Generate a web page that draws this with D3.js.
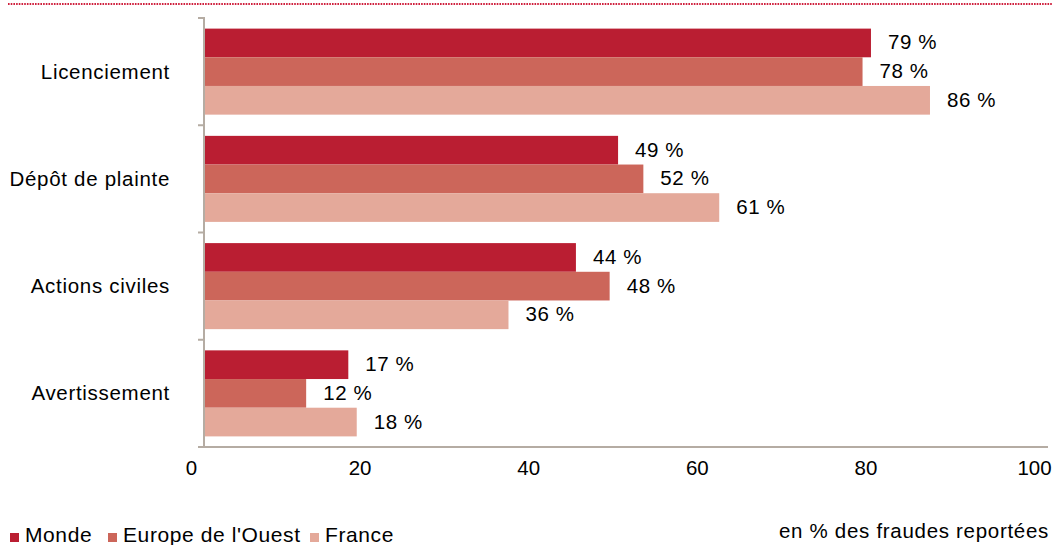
<!DOCTYPE html>
<html>
<head>
<meta charset="utf-8">
<script src="https://cdn.jsdelivr.net/npm/d3@7"></script>
<style>
  html, body { margin: 0; padding: 0; background: #fff; }
  svg { display: block; }
  text { font-family: "Liberation Sans", Arial, Helvetica, sans-serif; fill: #000; }
</style>
</head>
<body>
<svg id="chart" width="1052" height="545"></svg>
<script>
// Sanctions prises suite à une fraude (en % des fraudes reportées)
const categories = ["Licenciement", "Dépôt de plainte", "Actions civiles", "Avertissement"];
const seriesNames = ["Monde", "Europe de l'Ouest", "France"];
const monde = [79, 49, 44, 17];
const europeOuest = [78, 52, 48, 12];
const france = [86, 61, 36, 18];
const xTicks = [0, 20, 40, 60, 80, 100];

const seriesValues = [monde, europeOuest, france];
const colors = ["#ba1e32", "#cc665a", "#e4a99a"];
const axisColor = "#b5aca3";

const svg = d3.select("#chart");
const W = 1052, H = 545;

const x = d3.scaleLinear().domain([0, 100]).range([205, 1048]);
const y0 = d3.scaleBand().domain(categories).range([18, 447]).padding(0);
const y1 = d3.scaleBand().domain(seriesNames).range([0, y0.bandwidth()])
  .paddingInner(0).paddingOuter(0.37);
const color = d3.scaleOrdinal().domain(seriesNames).range(colors);

// dotted rule along the top
svg.append("line")
  .attr("x1", 8).attr("x2", W).attr("y1", 4).attr("y2", 4)
  .attr("stroke", "#cf1f3c").attr("stroke-width", 2)
  .attr("stroke-dasharray", "1.6 1.1");

// bars
const groups = svg.append("g").selectAll("g")
  .data(categories)
  .join("g")
  .attr("transform", d => `translate(0,${y0(d)})`);

groups.selectAll("rect")
  .data((c, i) => seriesNames.map((s, k) => ({ s, v: seriesValues[k][i] })))
  .join("rect")
  .attr("x", x(0))
  .attr("y", d => y1(d.s))
  .attr("width", d => x(d.v) - x(0))
  .attr("height", y1.bandwidth())
  .attr("fill", d => color(d.s));

// value labels
groups.selectAll("text")
  .data((c, i) => seriesNames.map((s, k) => ({ s, v: seriesValues[k][i] })))
  .join("text")
  .attr("x", d => x(d.v) + 17)
  .attr("y", d => y1(d.s) + y1.bandwidth() / 2 + 6.5)
  .attr("font-size", 20.5)
  .attr("letter-spacing", 0.6)
  .text(d => `${d.v} %`);

// vertical axis with category ticks at band boundaries
const yAxis = svg.append("g");
yAxis.append("line")
  .attr("x1", x(0) - 1).attr("x2", x(0) - 1)
  .attr("y1", y0.range()[0]).attr("y2", y0.range()[1])
  .attr("stroke", axisColor).attr("stroke-width", 2);
const boundaries = categories.map(c => y0(c)).concat([y0.range()[1]]);
yAxis.selectAll("line.tick")
  .data(boundaries)
  .join("line")
  .attr("class", "tick")
  .attr("x1", x(0) - 7).attr("x2", x(0))
  .attr("y1", d => d).attr("y2", d => d)
  .attr("stroke", axisColor).attr("stroke-width", 2);

yAxis.selectAll("text")
  .data(categories)
  .join("text")
  .attr("x", 170)
  .attr("y", d => y0(d) + y0.bandwidth() / 2 + 7)
  .attr("text-anchor", "end")
  .attr("font-size", 20.5)
  .attr("letter-spacing", 0.7)
  .text(d => d);

// horizontal axis
svg.append("line")
  .attr("x1", x(0) - 7).attr("x2", x(100))
  .attr("y1", 447).attr("y2", 447)
  .attr("stroke", axisColor).attr("stroke-width", 2);

const xAxis = svg.append("g")
  .attr("transform", "translate(0,447)")
  .call(d3.axisBottom(x).tickValues(xTicks).tickSize(0).tickPadding(0));
xAxis.select(".domain").remove();
xAxis.selectAll("text")
  .attr("font-size", 20.5)
  .attr("font-family", "Liberation Sans, Arial, sans-serif")
  .attr("fill", "#000")
  .attr("dy", 0)
  .attr("dx", -14)
  .attr("y", 28);

// legend
const legendX = [10, 108, 310];
const legend = svg.append("g").selectAll("g")
  .data(seriesNames)
  .join("g")
  .attr("transform", (d, i) => `translate(${legendX[i]},0)`);
legend.append("rect")
  .attr("x", 0).attr("y", 533).attr("width", 9).attr("height", 9)
  .attr("fill", d => color(d));
legend.append("text")
  .attr("x", 15).attr("y", 542)
  .attr("font-size", 21)
  .attr("letter-spacing", 0.6)
  .text(d => d);

// unit note
svg.append("text")
  .attr("x", 1049).attr("y", 538)
  .attr("text-anchor", "end")
  .attr("font-size", 20.5)
  .attr("letter-spacing", 0.7)
  .text("en % des fraudes reportées");
</script>
</body>
</html>
